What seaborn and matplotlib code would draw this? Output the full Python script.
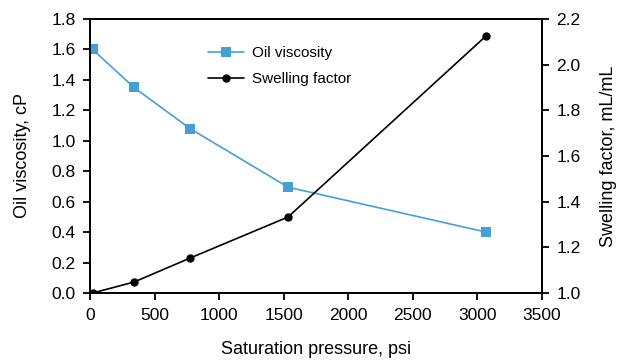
import matplotlib
matplotlib.use("Agg")
import matplotlib.pyplot as plt
import seaborn as sns
import pandas as pd

pressure = [20, 341, 775, 1534, 3067]
viscosity = [1.60, 1.35, 1.08, 0.695, 0.40]
swelling = [1.0, 1.048, 1.153, 1.333, 2.126]

sns.set_style("ticks")
plt.rcParams['font.family'] = ['Liberation Sans', 'DejaVu Sans']
plt.rcParams['text.color'] = 'black'
plt.rcParams['axes.labelcolor'] = 'black'

df = pd.DataFrame({"p": pressure, "v": viscosity, "s": swelling})

fig = plt.figure(figsize=(6.17, 3.62), dpi=100)
ax = fig.add_axes([90/617, 1-293/362, (542-90)/617, (293-19)/362])
ax2 = ax.twinx()

blue = "#45A0D5"
sns.lineplot(data=df, x="p", y="v", ax=ax, color=blue, marker="s", markersize=6.5,
             markeredgewidth=0, linewidth=1.2, label="Oil viscosity", legend=False)
sns.lineplot(data=df, x="p", y="s", ax=ax2, color="black", marker="o", markersize=6,
             markeredgewidth=0, linewidth=1.2, label="Swelling factor", legend=False)

ax.set_xlim(0, 3500)
ax.set_ylim(0, 1.8)
ax2.set_ylim(1.0, 2.2)
ax.set_xticks(range(0, 3501, 500))
ax.set_yticks([i/10 for i in range(0, 19, 2)])
ax.set_yticklabels([f"{i/10:.1f}" for i in range(0, 19, 2)])
ax2.set_yticks([1.0, 1.2, 1.4, 1.6, 1.8, 2.0, 2.2])
ax2.set_yticklabels([f"{v:.1f}" for v in [1.0, 1.2, 1.4, 1.6, 1.8, 2.0, 2.2]])

for a in (ax, ax2):
    for sp in a.spines.values():
        sp.set_visible(True)
        sp.set_color("black")
        sp.set_linewidth(1.3)
    a.tick_params(direction="out", length=5, width=1.3, pad=5.5, labelsize=12.5,
                  colors="black")
ax.grid(False)
ax2.grid(False)

ax.set_xlabel("Saturation pressure, psi", fontsize=13, labelpad=13.5, color="black")
ax.set_ylabel("Oil viscosity, cP", fontsize=13, labelpad=14.5, color="black")
ax2.set_ylabel("Swelling factor, mL/mL", fontsize=13, labelpad=14, color="black")

h1, l1 = ax.get_legend_handles_labels()
h2, l2 = ax2.get_legend_handles_labels()
leg = ax2.legend(h1 + h2, l1 + l2, loc="upper left", bbox_to_anchor=(0.23, 0.95),
                 frameon=False, fontsize=11, handlelength=2.4, labelspacing=0.75,
                 handletextpad=0.5)
for t in leg.get_texts():
    t.set_color("black")

fig.savefig("out.png", dpi=100)
